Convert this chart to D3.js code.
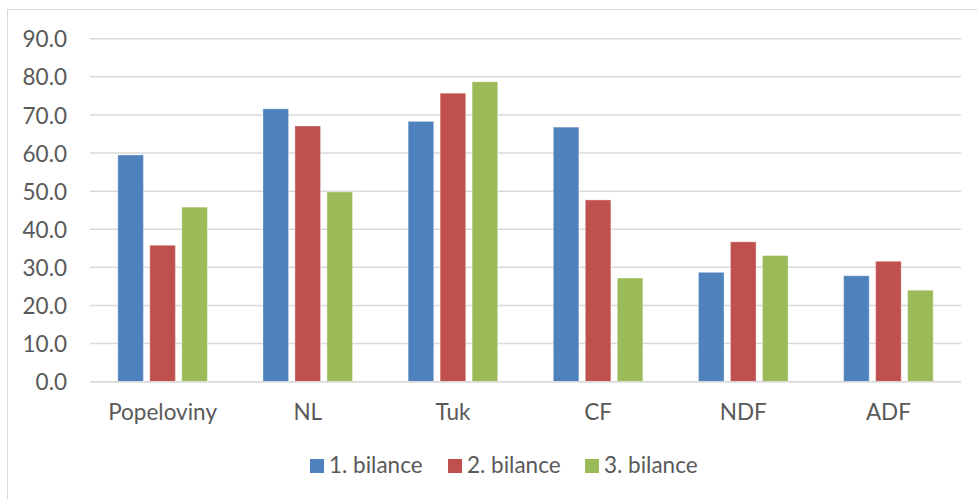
<!DOCTYPE html>
<html>
<head>
<meta charset="utf-8">
<script src="https://cdn.jsdelivr.net/npm/d3@7"></script>
<style>
  html, body { margin: 0; padding: 0; background: #fff; }
  svg { display: block; }
  text { font-family: Lato, "Open Sans", sans-serif; fill: #595959; }
</style>
</head>
<body>
<svg id="chart" width="977" height="499"></svg>
<script>
// Categories and the three balance series
const categories = ["Popeloviny", "NL", "Tuk", "CF", "NDF", "ADF"];
const seriesNames = ["1. bilance", "2. bilance", "3. bilance"];
const bilance1 = [59.5, 71.6, 68.3, 66.8, 28.7, 27.8];
const bilance2 = [35.8, 67.1, 75.7, 47.7, 36.7, 31.6];
const bilance3 = [45.8, 49.8, 78.7, 27.2, 33.1, 24.0];
const yTicks = [0, 10, 20, 30, 40, 50, 60, 70, 80, 90];
const colors = ["#4F81BD", "#C0504D", "#9BBB59"];

const seriesValues = [bilance1, bilance2, bilance3];
const rows = categories.map((c, i) => ({
  category: c,
  values: seriesNames.map((s, j) => ({ series: s, value: seriesValues[j][i], idx: j }))
}));

const FONT = 22.5;
const svg = d3.select("#chart");

// Outer chart frame
svg.append("rect")
  .attr("x", 7.5).attr("y", 9.5)
  .attr("width", 980).attr("height", 500)
  .attr("fill", "none").attr("stroke", "#D9D9D9").attr("stroke-width", 1);

const plot = { left: 90, right: 961, top: 38.7, bottom: 381.7 };

const y = d3.scaleLinear().domain([0, 90]).range([plot.bottom, plot.top]);
const x0 = d3.scaleBand().domain(categories)
  .range([plot.left, plot.right])
  .paddingInner(0.383).paddingOuter(0.1915);
const x1 = d3.scaleBand().domain(seriesNames)
  .range([0, x0.bandwidth()])
  .paddingInner(0.2).paddingOuter(0);

// Horizontal gridlines
svg.append("g")
  .selectAll("line")
  .data(yTicks)
  .join("line")
  .attr("x1", plot.left).attr("x2", plot.right)
  .attr("y1", d => y(d)).attr("y2", d => y(d))
  .attr("stroke", "#D9D9D9").attr("stroke-width", 1.5);

// Y axis labels
const yAxis = d3.axisLeft(y).tickValues(yTicks).tickFormat(d3.format(".1f")).tickSize(0).tickPadding(0);
const yg = svg.append("g").attr("transform", `translate(67,0)`).call(yAxis);
yg.select(".domain").remove();
yg.selectAll("text")
  .attr("font-size", FONT)
  .attr("font-family", null)
  .attr("fill", "#595959")
  .attr("dy", "0.36em");

// Bars
const groups = svg.append("g")
  .selectAll("g")
  .data(rows)
  .join("g")
  .attr("transform", d => `translate(${x0(d.category)},0)`);

groups.selectAll("rect")
  .data(d => d.values)
  .join("rect")
  .attr("x", d => x1(d.series))
  .attr("width", x1.bandwidth())
  .attr("y", d => y(d.value))
  .attr("height", d => y(0) - y(d.value))
  .attr("fill", d => colors[d.idx])
  .attr("stroke", "#ffffff")
  .attr("stroke-opacity", 0.35)
  .attr("stroke-width", 1);

// Zero baseline drawn over bar bottoms
svg.append("line")
  .attr("x1", plot.left).attr("x2", plot.right)
  .attr("y1", y(0)).attr("y2", y(0))
  .attr("stroke", "#D9D9D9").attr("stroke-width", 1.5);

// Category axis labels
const xAxis = d3.axisBottom(x0).tickSize(0).tickPadding(0);
const xg = svg.append("g").attr("transform", `translate(0,420)`).call(xAxis);
xg.select(".domain").remove();
xg.selectAll("text")
  .attr("font-size", FONT)
  .attr("font-family", null)
  .attr("fill", "#595959")
  .attr("y", 0).attr("dy", 0);

// Legend
const legendX = [310, 448, 585];
const legend = svg.append("g")
  .selectAll("g")
  .data(seriesNames)
  .join("g")
  .attr("transform", (d, i) => `translate(${legendX[i]},459)`);
legend.append("rect")
  .attr("width", 14).attr("height", 14)
  .attr("fill", (d, i) => colors[i]);
legend.append("text")
  .attr("x", 19).attr("y", 14)
  .attr("font-size", FONT)
  .text(d => d);
</script>
</body>
</html>
